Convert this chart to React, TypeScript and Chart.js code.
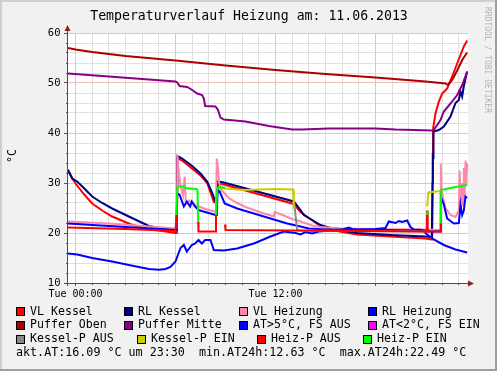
import React, { useEffect, useRef } from 'react';
import { Chart, registerables } from 'chart.js';

Chart.register(...registerables);

// ---------------- data ----------------
const xMin = -0.45;
const xMax = 23.55;
const yMin = 10;
const yMax = 60;
const xTickValues = [0, 12];
const xTickLabels = ['Tue 00:00', 'Tue 12:00'];
const yTickValues = [10, 20, 30, 40, 50, 60];

const chartTitle = 'Temperaturverlauf Heizung am: 11.06.2013';
const yAxisLabel = '°C';
const watermark = 'RRDTOOL / TOBI OETIKER';

const aktAT = '16.09';
const aktTime = '23:30';
const minAT24h = '12.63';
const maxAT24h = '22.49';

const vlKesselT = [-0.45, -0.2, 0, 0.5, 1.0, 1.6, 2.2, 3.4, 4.4, 6.0, 6.08, 6.12, 6.4, 7.5, 7.9, 8.3, 8.45, 8.55, 8.9, 13.1, 13.5, 14.0, 14.7, 15.5, 16.9, 18.9, 21.0, 21.4, 21.46, 21.6, 21.8, 22.0, 22.3, 22.6, 22.9, 23.1, 23.3, 23.5];
const vlKesselV = [32.7, 31.0, 29.9, 27.8, 25.9, 24.5, 23.3, 21.6, 20.8, 20.0, 20.0, 35.0, 34.5, 31.5, 30.0, 26.2, 26.0, 29.9, 29.7, 25.8, 24.2, 23.0, 21.4, 20.5, 19.7, 19.3, 18.9, 18.7, 41.0, 43.9, 46.3, 47.9, 48.9, 51.3, 53.9, 55.6, 57.3, 58.5];

const rlKesselT = [-0.45, -0.2, 0.1, 0.5, 1.0, 1.6, 2.2, 3.2, 4.4, 5.2, 6.0, 6.08, 6.12, 6.4, 7.0, 7.5, 7.9, 8.2, 8.4, 8.48, 8.55, 8.9, 13.1, 13.5, 13.7, 14.2, 14.7, 15.5, 16.9, 18.9, 21.0, 21.38, 21.42, 21.44, 21.46, 21.48, 21.8, 22.1, 22.5, 22.8, 23.0, 23.1, 23.2, 23.3, 23.5];
const rlKesselV = [32.5, 30.9, 30.3, 29.0, 27.3, 26.0, 24.9, 23.3, 21.4, 20.9, 20.6, 20.6, 35.4, 34.9, 33.4, 31.9, 30.3, 28.0, 26.3, 26.3, 30.3, 30.1, 26.3, 24.6, 23.6, 22.6, 21.6, 20.8, 20.0, 19.6, 19.3, 19.2, 30.0, 36.0, 35.0, 40.3, 40.6, 41.3, 43.3, 46.0, 46.6, 48.3, 47.3, 49.4, 52.3];

const vlHeizungT = [-0.45, 2, 4, 6.0, 6.08, 6.12, 6.2, 6.3, 6.45, 6.55, 6.62, 6.7, 6.8, 7.0, 7.2, 7.4, 7.8, 8.3, 8.42, 8.48, 8.55, 8.62, 8.75, 9.2, 9.7, 10.2, 10.7, 11.2, 11.9, 11.95, 12.5, 13.0, 13.5, 14.2, 14.7, 16.0, 18.0, 21.0, 21.88, 21.92, 21.96, 22.05, 22.2, 22.5, 22.8, 23.0, 23.05, 23.1, 23.2, 23.25, 23.3, 23.35, 23.4, 23.45, 23.5];
const vlHeizungV = [22.3, 21.9, 21.4, 20.9, 21.0, 35.6, 32.0, 29.5, 27.5, 31.3, 26.0, 25.8, 26.5, 26.0, 25.5, 25.3, 24.8, 24.3, 24.3, 34.9, 33.0, 30.0, 28.6, 27.0, 26.0, 25.2, 24.6, 24.0, 23.3, 24.2, 23.5, 22.8, 22.3, 21.5, 21.2, 20.9, 20.8, 20.7, 20.6, 33.9, 29.0, 27.0, 25.0, 23.6, 23.2, 24.5, 32.5, 26.0, 30.0, 25.5, 33.0, 27.0, 34.5, 29.5, 34.0];

const rlHeizungT = [-0.45, 3, 6.0, 6.06, 6.1, 6.25, 6.5, 6.68, 6.88, 6.98, 7.18, 7.38, 8.4, 8.48, 8.52, 8.65, 8.95, 9.7, 10.7, 11.7, 12.7, 13.5, 14.0, 15.0, 21.0, 21.1, 21.9, 21.92, 22.1, 22.3, 22.7, 23.0, 23.1, 23.2, 23.3, 23.4, 23.5];
const rlHeizungV = [21.9, 21.2, 20.6, 20.6, 27.9, 27.6, 25.3, 26.3, 25.3, 26.3, 25.3, 24.6, 23.6, 23.6, 28.6, 28.3, 25.9, 24.9, 23.9, 22.9, 21.9, 21.3, 20.9, 20.7, 20.5, 20.3, 20.3, 27.3, 25.7, 22.9, 21.9, 22.0, 25.7, 23.6, 24.5, 27.3, 27.0];

const pufferObenT = [-0.45, 0, 1, 3, 6, 9, 12, 15, 18, 21, 22.2, 22.35, 22.6, 22.9, 23.2, 23.5];
const pufferObenV = [57.0, 56.7, 56.2, 55.4, 54.5, 53.5, 52.6, 51.8, 51.1, 50.3, 49.9, 49.6, 50.6, 52.5, 54.6, 56.1];

const pufferMitteT = [-0.45, 2, 4, 6.0, 6.1, 6.25, 6.7, 7.0, 7.3, 7.6, 7.7, 7.78, 8.4, 8.55, 8.7, 8.9, 10.2, 11.6, 13.0, 13.6, 15.2, 18.0, 19.2, 21.4, 21.5, 21.9, 22.1, 22.5, 22.9, 23.2, 23.5];
const pufferMitteV = [51.9, 51.3, 50.8, 50.3, 50.1, 49.4, 49.2, 48.6, 47.9, 47.6, 46.9, 45.4, 45.3, 44.6, 43.1, 42.7, 42.3, 41.4, 40.7, 40.7, 40.9, 40.9, 40.7, 40.5, 40.6, 42.6, 44.3, 45.9, 47.6, 49.6, 52.3];

const atHighT = [-0.45, 0.1, 1.0, 2.2, 3.2, 4.4, 5.0, 5.4, 5.7, 6.0, 6.3, 6.5, 6.68, 6.98, 7.18, 7.38, 7.58, 7.78, 8.1, 8.3, 8.9, 9.7, 10.7, 11.7, 12.5, 13.2, 13.5, 13.8, 14.2, 14.6, 15.0, 15.5, 16.0, 16.4, 16.6, 17.0, 18.0, 18.6, 18.8, 19.2, 19.4, 19.6, 19.9, 20.1, 20.3, 20.8, 21.1, 21.5, 22.1, 22.8, 23.5];
const atHighV = [15.9, 15.7, 15.0, 14.3, 13.6, 12.8, 12.63, 12.8, 13.2, 14.3, 17.0, 17.6, 16.3, 17.6, 17.9, 18.6, 17.9, 18.6, 18.6, 16.6, 16.5, 16.9, 17.9, 19.3, 20.3, 20.0, 19.7, 20.2, 19.9, 20.3, 20.4, 20.6, 20.7, 21.1, 20.8, 20.7, 20.8, 21.0, 22.3, 22.0, 22.4, 22.2, 22.49, 21.2, 20.7, 20.6, 19.7, 18.7, 17.6, 16.7, 16.09];

const atLowT: number[] = [];
const atLowV: number[] = [];

const kesselAusT = [13.1, 13.3, 13.5, 21.08];
const kesselAusV = [26.6, 20.6, 20.49, 20.3];

const kesselEinT = [8.5, 9.0, 10.0, 11.0, 12.0, 13.05, 13.1, 13.12, 21.1, 21.17, 21.9, 21.93];
const kesselEinV = [29.0, 28.9, 28.6, 28.7, 28.8, 28.7, 24.9, null, 25.3, 28.1, 28.4, null];

const heizAusT = [-0.45, 3, 6.0, 6.06, 6.08, 7.36, 7.38, 8.4, 8.43, 8.45, 8.97, 9.0, 13.0, 17.0, 21.08, 21.1, 21.13, 21.9, 21.92, 21.94];
const heizAusV = [21.1, 20.8, 20.4, 23.6, null, 22.3, 20.3, 20.3, 23.6, null, 21.7, 20.6, 20.5, 20.4, 20.3, 24.5, 20.3, 20.3, 21.9, null];

const heizEinT = [6.06, 6.1, 6.2, 6.5, 6.6, 6.9, 7.25, 7.32, 7.36, 7.38, 8.43, 8.5, 8.6, 8.9, 8.97, 8.99, 21.1, 21.12, 21.14, 21.92, 21.94, 22.5, 23.0, 23.5];
const heizEinV = [23.6, 28.9, 29.3, 29.3, 29.0, 28.9, 28.8, 28.6, 22.3, null, 23.6, 28.7, 29.2, 29.1, 29.0, null, 24.3, 23.6, null, 21.9, 28.6, 29.0, 29.3, 29.6];

const seriesNames = [
  'VL Kessel', 'RL Kessel', 'VL Heizung', 'RL Heizung',
  'Puffer Oben', 'Puffer Mitte', 'AT>5°C, FS AUS', 'AT<2°C, FS EIN',
  'Kessel-P AUS', 'Kessel-P EIN', 'Heiz-P AUS', 'Heiz-P EIN',
];
const seriesTimes = [vlKesselT, rlKesselT, vlHeizungT, rlHeizungT, pufferObenT, pufferMitteT, atHighT, atLowT, kesselAusT, kesselEinT, heizAusT, heizEinT];
const seriesValues: (number | null)[][] = [vlKesselV, rlKesselV, vlHeizungV, rlHeizungV, pufferObenV, pufferMitteV, atHighV, atLowV, kesselAusV, kesselEinV, heizAusV, heizEinV];

// ---------------- styles ----------------
const seriesColors = [
  '#FF0000', '#000080', '#FF88AA', '#0000FF',
  '#AA0000', '#880088', '#0000FF', '#FF00FF',
  '#888888', '#CCCC00', '#FF0000', '#00FF00',
];
const legendCols = [
  [16, 124, 239, 368],
  [16, 124, 239, 368],
  [16, 137, 257, 363],
];
const legendRowY = [311.5, 325.3, 339.2];
const statsY = 352.8;
const MONO = '"DejaVu Sans Mono", monospace';

const rrdPlugin = {
  id: 'rrdDecor',
  beforeDraw(chart: any) {
    const { ctx, chartArea: a, width: W, height: H } = chart;
    const xs = chart.scales.x;
    const ys = chart.scales.y;
    ctx.save();
    ctx.fillStyle = '#F1F1F1';
    ctx.fillRect(0, 0, W, H);
    ctx.fillStyle = '#CFCFCF';
    ctx.fillRect(0, 0, W, 2);
    ctx.fillRect(0, 0, 2, H);
    ctx.fillStyle = '#9E9E9E';
    ctx.fillRect(0, H - 2, W, 2);
    ctx.fillRect(W - 2, 0, 2, H);
    ctx.fillStyle = '#FFFFFF';
    ctx.fillRect(a.left, a.top, a.right - a.left, a.bottom - a.top);

    ctx.lineWidth = 1;
    const drawGrid = (major: boolean) => {
      ctx.strokeStyle = major ? '#F0BCBC' : '#E0E0E0';
      ctx.beginPath();
      for (let h = Math.ceil(xMin); h <= Math.floor(xMax); h++) {
        if ((h % 6 === 0) !== major) continue;
        const px = Math.floor(xs.getPixelForValue(h)) + 0.5;
        ctx.moveTo(px, a.top);
        ctx.lineTo(px, a.bottom);
      }
      for (let v = yMin; v <= yMax; v += 2) {
        if ((v % 10 === 0) !== major) continue;
        const py = Math.floor(ys.getPixelForValue(v)) + 0.5;
        ctx.moveTo(a.left, py);
        ctx.lineTo(a.right, py);
      }
      ctx.stroke();
    };
    drawGrid(false);
    drawGrid(true);
    ctx.restore();
  },
  afterDatasetsDraw(chart: any) {
    const { ctx, chartArea: a, width: W } = chart;
    const xs = chart.scales.x;
    const ys = chart.scales.y;
    ctx.save();
    // ticks
    ctx.strokeStyle = '#555555';
    ctx.lineWidth = 1;
    ctx.beginPath();
    for (let h = Math.ceil(xMin); h <= Math.floor(xMax); h++) {
      const px = Math.floor(xs.getPixelForValue(h)) + 0.5;
      ctx.moveTo(px, a.bottom);
      ctx.lineTo(px, a.bottom + (h % 6 === 0 ? 3 : 2));
    }
    for (let v = yMin; v <= yMax; v += 2) {
      const py = Math.floor(ys.getPixelForValue(v)) + 0.5;
      ctx.moveTo(a.left - (v % 10 === 0 ? 4 : 2), py);
      ctx.lineTo(a.left, py);
    }
    ctx.stroke();
    // axes
    ctx.strokeStyle = '#5A4848';
    ctx.beginPath();
    ctx.moveTo(a.left - 0.5, a.bottom + 3);
    ctx.lineTo(a.left - 0.5, a.top - 4);
    ctx.moveTo(a.left - 4, a.bottom + 0.5);
    ctx.lineTo(a.right + 3, a.bottom + 0.5);
    ctx.stroke();
    // arrows
    ctx.fillStyle = '#8B2020';
    ctx.beginPath();
    ctx.moveTo(a.left - 3.5, a.top - 2);
    ctx.lineTo(a.left + 2.5, a.top - 2);
    ctx.lineTo(a.left - 0.5, a.top - 8);
    ctx.closePath();
    ctx.fill();
    ctx.beginPath();
    ctx.moveTo(a.right, a.bottom - 2.5);
    ctx.lineTo(a.right, a.bottom + 3.5);
    ctx.lineTo(a.right + 6, a.bottom + 0.5);
    ctx.closePath();
    ctx.fill();

    // tick labels
    ctx.fillStyle = '#000000';
    ctx.font = `10px ${MONO}`;
    ctx.textBaseline = 'middle';
    ctx.textAlign = 'center';
    xTickValues.forEach((v, i) => {
      ctx.fillText(xTickLabels[i], xs.getPixelForValue(v), 294);
    });
    ctx.textAlign = 'right';
    ctx.font = `10.5px ${MONO}`;
    yTickValues.forEach((v) => {
      ctx.fillText(String(v), 60.5, ys.getPixelForValue(v));
    });

    // title
    ctx.font = `13.2px ${MONO}`;
    ctx.textAlign = 'center';
    ctx.fillText(chartTitle, 249, 16.5);

    // y label
    ctx.save();
    ctx.translate(12.5, 156);
    ctx.rotate(-Math.PI / 2);
    ctx.font = `11.7px ${MONO}`;
    ctx.textAlign = 'center';
    ctx.fillText(yAxisLabel, 0, 0);
    ctx.restore();

    // watermark
    ctx.save();
    ctx.translate(487.5, 7);
    ctx.rotate(Math.PI / 2);
    ctx.font = `8px ${MONO}`;
    ctx.fillStyle = '#B4B4B4';
    ctx.textAlign = 'left';
    ctx.fillText(watermark, 0, 0);
    ctx.restore();

    // legend
    ctx.font = `11.6px ${MONO}`;
    ctx.textAlign = 'left';
    seriesNames.forEach((name, i) => {
      const row = Math.floor(i / 4);
      const col = i % 4;
      const bx = legendCols[row][col];
      const cy = legendRowY[row];
      const by = Math.round(cy - 4.5);
      ctx.fillStyle = seriesColors[i];
      ctx.fillRect(bx, by, 9, 9);
      ctx.strokeStyle = '#000000';
      ctx.strokeRect(bx + 0.5, by + 0.5, 8, 8);
      ctx.fillStyle = '#000000';
      ctx.fillText(name, bx + 14, cy);
    });
    ctx.font = `11.7px ${MONO}`;
    const stats = `akt.AT:${aktAT} °C um ${aktTime}  min.AT24h:${minAT24h} °C  max.AT24h:${maxAT24h} °C`;
    ctx.fillText(stats, 16, statsY);
    ctx.restore();
  },
};

export default function App() {
  const ref = useRef<HTMLCanvasElement | null>(null);
  useEffect(() => {
    document.body.style.margin = '0';
    if (!ref.current) return;
    const datasets = seriesNames.map((name, i) => ({
      label: name,
      data: seriesTimes[i].map((t, j) => ({ x: t, y: seriesValues[i][j] })),
      borderColor: seriesColors[i],
      backgroundColor: seriesColors[i],
      borderWidth: 2,
      pointRadius: 0,
      fill: false,
      tension: 0,
      spanGaps: false,
      order: -i,
    }));
    const chart = new Chart(ref.current, {
      type: 'line',
      data: { datasets } as any,
      options: {
        animation: false,
        responsive: false,
        devicePixelRatio: 1,
        layout: { padding: { left: 0, top: 33, right: 29, bottom: 0 } },
        plugins: {
          legend: { display: false },
          tooltip: { enabled: false },
          title: { display: false },
        },
        scales: {
          x: {
            type: 'linear',
            min: xMin,
            max: xMax,
            grid: { display: false },
            border: { display: false },
            ticks: { display: false },
            afterFit: (s: any) => { s.height = 88; },
          },
          y: {
            type: 'linear',
            min: yMin,
            max: yMax,
            grid: { display: false },
            border: { display: false },
            ticks: { display: false },
            afterFit: (s: any) => { s.width = 68; },
          },
        },
      } as any,
      plugins: [rrdPlugin],
    });
    return () => chart.destroy();
  }, []);
  return (
    <canvas
      ref={ref}
      width={497}
      height={371}
      style={{ display: 'block', width: 497, height: 371 }}
    />
  );
}
